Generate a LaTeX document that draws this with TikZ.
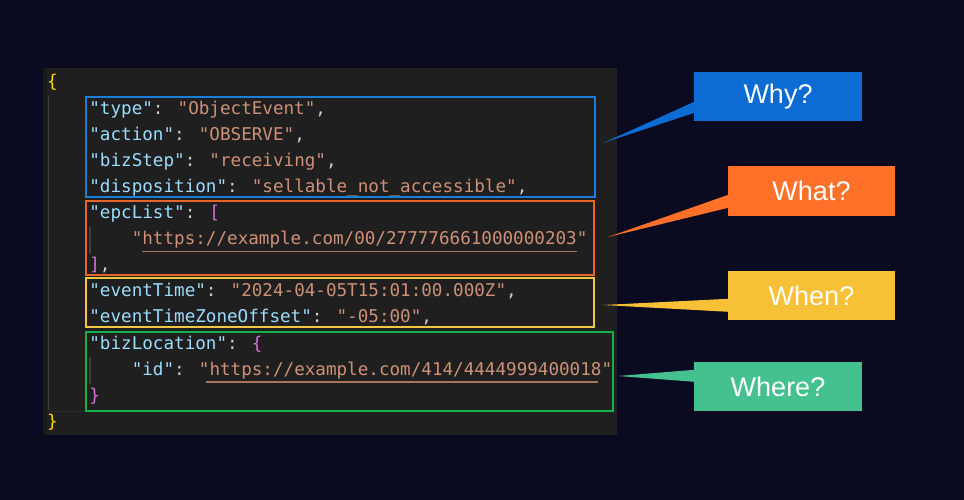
\documentclass[tikz,border=0pt]{standalone}
\usepackage{fontspec}
\setmainfont{Liberation Sans}
\newfontfamily\codefont{DejaVu Sans Mono}
\usetikzlibrary{calc}
\definecolor{bg}{HTML}{0A0A20}
\definecolor{panel}{HTML}{1F1F1F}
\definecolor{panelstrip}{HTML}{1A1A1A}
\definecolor{guide}{HTML}{404040}
\definecolor{hiline}{HTML}{2A2A2A}
\definecolor{jkey}{HTML}{9CDCFE}
\definecolor{jstr}{HTML}{CE9178}
\definecolor{jpun}{HTML}{CCCCCC}
\definecolor{jyel}{HTML}{FFD700}
\definecolor{jpur}{HTML}{DA70D6}
\definecolor{uline}{HTML}{A8765E}
\definecolor{oblue}{HTML}{1A7FD6}
\definecolor{oorange}{HTML}{E8652A}
\definecolor{oyellow}{HTML}{F2C744}
\definecolor{ogreen}{HTML}{14B04C}
\definecolor{cwhy}{HTML}{0C6CD4}
\definecolor{cwhat}{HTML}{FF7029}
\definecolor{cwhen}{HTML}{F6C137}
\definecolor{cwhere}{HTML}{45C18F}
\newcommand\jk[1]{\textcolor{jkey}{"#1"}}
\newcommand\js[1]{\textcolor{jstr}{"#1"}}
\newcommand\jp[1]{\textcolor{jpun}{#1}}
\begin{document}
\begin{tikzpicture}[x=1pt,y=-1pt,
  codeline/.style={anchor=base west,inner sep=0pt,outer sep=0pt,
    font=\codefont\fontsize{17.6}{20}\selectfont},
  outlinebox/.style={line width=1.6pt},
  callout/.style={minimum width=#1,minimum height=49pt,inner sep=0pt,
    text=white,font=\fontsize{27}{30}\selectfont},
  guideline/.style={draw=guide,line width=1.4pt},
  urlline/.style={draw=uline,line width=1.3pt}]
% background and panel
\fill[bg] (0,0) rectangle (964,500);
\useasboundingbox (0,0) rectangle (964,500);
\fill[panel] (43,68) rectangle (617,435);
\fill[panelstrip] (43,68) rectangle (47,435);
\draw[hiline,line width=1pt] (47,411) -- (617,411);
% indent guides
\draw[guideline] (48.5,96) -- (48.5,410);
\draw[guideline] (90,227) -- (90,254);
\draw[guideline] (90,357) -- (90,384);
% code lines
\node[codeline] (c0) at (47,88.0) {\textcolor{jyel}{\{}};
\node[codeline] (c1) at (89.4,114.1) {\jk{type}\jp{: }\js{ObjectEvent}\jp{,}};
\node[codeline] (c2) at (89.4,140.2) {\jk{action}\jp{: }\js{OBSERVE}\jp{,}};
\node[codeline] (c3) at (89.4,166.3) {\jk{bizStep}\jp{: }\js{receiving}\jp{,}};
\node[codeline] (c4) at (89.4,192.4) {\jk{disposition}\jp{: }\js{sellable\_not\_accessible}\jp{,}};
\node[codeline] (c5) at (89.4,218.5) {\jk{epcList}\jp{: }\textcolor{jpur}{[}};
\node[codeline] (c6) at (131.8,244.6) {\js{https://example.com/00/277776661000000203}};
\node[codeline] (c7) at (89.4,270.7) {\textcolor{jpur}{]}\jp{,}};
\node[codeline] (c8) at (89.4,296.8) {\jk{eventTime}\jp{: }\js{2024-04-05T15:01:00.000Z}\jp{,}};
\node[codeline] (c9) at (89.4,322.9) {\jk{eventTimeZoneOffset}\jp{: }\js{-05:00}\jp{,}};
\node[codeline] (c10) at (89.4,349.0) {\jk{bizLocation}\jp{: }\textcolor{jpur}{\{}};
\node[codeline] (c11) at (131.8,375.1) {\jk{id}\jp{: }\js{https://example.com/414/4444999400018}};
\node[codeline] (c12) at (89.4,401.2) {\textcolor{jpur}{\}}};
\node[codeline] (c13) at (47,427.3) {\textcolor{jyel}{\}}};
% url underlines
\draw[urlline] (142.4,251.6) -- (577,251.6);
\draw[urlline] (206,382.1) -- (598,382.1);
% outline boxes
\draw[outlinebox,oblue] (86,97) rectangle (595,197);
\draw[outlinebox,oorange] (86,201) rectangle (594,275);
\draw[outlinebox,oyellow] (86,278) rectangle (594,327);
\draw[outlinebox,ogreen] (86,332) rectangle (613,411);
% callouts
\node[callout=168pt,fill=cwhy] (why) at (778,96.5) {Why?};
\node[callout=167pt,fill=cwhat,minimum height=50pt] (what) at (811.5,191) {What?};
\node[callout=167pt,fill=cwhen] (when) at (811.5,295.5) {When?};
\node[callout=168pt,fill=cwhere] (where) at (778,386.5) {Where?};
\coordinate (whytip) at (603,143);
\coordinate (whattip) at (608,237);
\coordinate (whentip) at (603,305);
\coordinate (wheretip) at (618,376);
\fill[cwhy] (whytip) -- ($(why.north west)+(0.5,30)$) -- ($(why.north west)+(0.5,41)$) -- cycle;
\fill[cwhat] (whattip) -- ($(what.north west)+(0.5,29)$) -- ($(what.north west)+(0.5,42)$) -- cycle;
\fill[cwhen] (whentip) -- ($(when.north west)+(0.5,28)$) -- ($(when.north west)+(0.5,41)$) -- cycle;
\fill[cwhere] (wheretip) -- ($(where.north west)+(0.5,8)$) -- ($(where.north west)+(0.5,20)$) -- cycle;
\end{tikzpicture}
\end{document}
